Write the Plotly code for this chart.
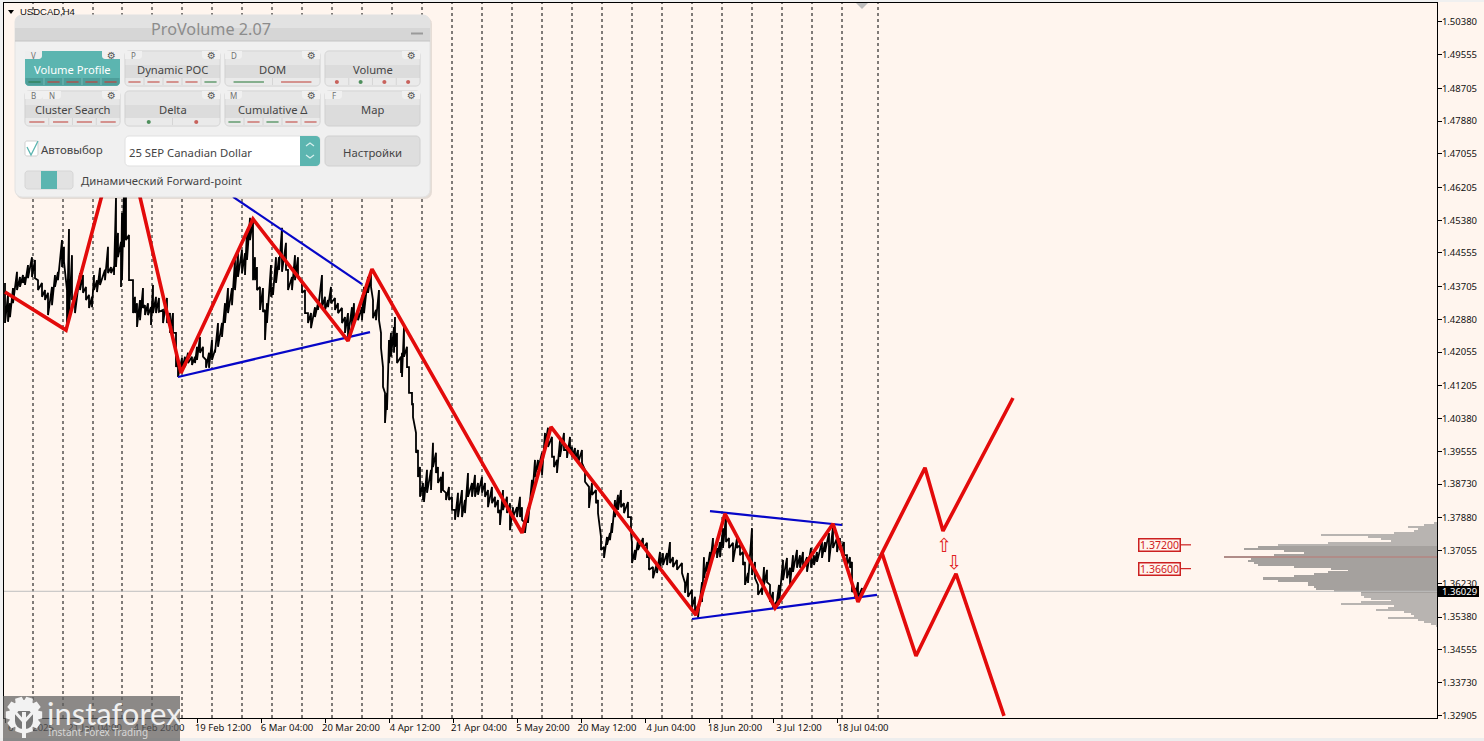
import math
import plotly.graph_objects as go

# ---------- data ----------
price_ticks = [1.50380,1.49555,1.48705,1.47880,1.47055,1.46205,1.45380,1.44555,1.43705,1.42880,1.42055,
               1.41205,1.40380,1.39555,1.38730,1.37880,1.37055,1.36230,1.35380,1.34555,1.33730,1.32905]
time_tick_bars = [5,69,133,197,261,325,389,453,517,581,645,709,773,837]
time_tick_labels = ["6 Jan 2025","21 Jan 04:00","4 Feb 20:00","19 Feb 12:00","6 Mar 04:00","20 Mar 20:00","4 Apr 12:00",
                    "21 Apr 04:00","5 May 20:00","20 May 12:00","4 Jun 04:00","18 Jun 20:00","3 Jul 12:00","18 Jul 04:00"]
period_bars = [33,63,93,122,152,182,212,242,272,302,332,362,392,422,452,482,512,542,572,602,632,662,692,722,752,782,812,842,878]

bars = [5,8,10,13,17,20,23,25,28,32,35,38,42,45,48,52,55,58,62,64,67,69,72,75,80,83,86,89,92,94,97,100,105,108,111,114,116,118,121,122,124,126,129,
133,135,137,140,143,145,148,151,153,156,159,163,167,170,173,176,178,182,185,188,192,195,197,200,203,206,209,212,215,218,222,225,228,232,235,238,242,245,247,250,
253,255,257,260,263,265,267,271,273,276,279,282,286,288,292,295,298,302,305,308,311,315,318,322,325,328,331,335,338,342,345,348,352,354,358,362,364,368,371,373,376,379,
381,383,385,387,389,391,394,395,397,401,402,404,407,409,412,413,416,418,420,423,424,427,431,433,436,438,441,443,446,449,452,455,458,462,465,468,472,475,478,482,485,488,492,495,498,500,
503,507,510,513,517,520,522,525,528,532,535,538,542,545,548,552,554,557,560,564,567,570,572,575,578,582,585,589,592,596,598,601,604,607,610,612,615,618,621,624,628,631,632,635,638,643,647,649,653,657,660,663,667,670,673,677,682,685,688,692,695,698,
702,704,707,710,713,717,720,723,726,729,733,737,740,743,745,748,752,755,758,762,764,767,770,773,776,779,783,787,790,793,797,800,803,807,811,814,817,822,825,829,833,837,840,844,847,850,852,855,858,862]

highs = [1.4380,1.4350,1.4329,1.4367,1.4408,1.4395,1.4400,1.4395,1.4425,1.4445,1.4438,1.4387,1.4380,1.4362,1.4355,1.4370,1.4400,1.4408,1.4488,1.4471,1.4362,1.4516,1.4450,1.4345,1.4405,1.4400,1.4370,1.4350,1.4345,1.4400,1.4387,1.4418,1.4413,1.4471,1.4420,1.4420,1.4594,1.4506,1.4483,1.4556,1.4614,1.4614,1.4501,
1.4387,1.4345,1.4329,1.4337,1.4367,1.4324,1.4329,1.4319,1.4375,1.4345,1.4342,1.4312,1.4342,1.4304,1.4304,1.4254,1.4186,1.4191,1.4194,1.4204,1.4194,1.4194,1.4219,1.4244,1.4219,1.4186,1.4204,1.4236,1.4211,1.4279,1.4279,1.4329,1.4367,1.4367,1.4438,1.4455,1.4463,1.4455,1.4514,1.4544,
1.4539,1.4445,1.4420,1.4370,1.4367,1.4312,1.4329,1.4425,1.4370,1.4445,1.4445,1.4519,1.4481,1.4413,1.4395,1.4450,1.4445,1.4380,1.4362,1.4304,1.4304,1.4319,1.4329,1.4400,1.4345,1.4337,1.4370,1.4342,1.4329,1.4317,1.4294,1.4304,1.4319,1.4329,1.4312,1.4319,1.4370,1.4395,1.4400,1.4337,1.4312,1.4362,
1.4254,1.4168,1.4103,1.4103,1.4236,1.4254,1.4269,1.4294,1.4254,1.4194,1.4204,1.4269,1.4219,1.4168,1.4103,1.4077,1.4002,1.3959,1.3916,1.3876,1.3866,1.3909,1.3909,1.3977,1.3952,1.3916,1.3891,1.3904,1.3851,1.3866,1.3841,1.3808,1.3851,1.3858,1.3833,1.3901,1.3876,1.3896,1.3876,1.3891,1.3876,1.3858,1.3866,1.3841,1.3833,1.3808,
1.3858,1.3841,1.3825,1.3815,1.3815,1.3841,1.3815,1.3775,1.3815,1.3884,1.3934,1.3934,1.3952,1.4002,1.4015,1.3992,1.3942,1.3934,1.3984,1.4002,1.3959,1.3992,1.3967,1.3964,1.3959,1.3959,1.3909,1.3866,1.3876,1.3858,1.3833,1.3740,1.3715,1.3740,1.3750,1.3775,1.3833,1.3846,1.3858,1.3825,1.3828,1.3790,1.3725,1.3707,1.3732,1.3737,1.3725,1.3689,1.3664,1.3674,1.3702,1.3699,1.3699,1.3727,1.3689,1.3682,1.3674,1.3624,1.3649,1.3606,1.3589,1.3569,
1.3626,1.3689,1.3677,1.3702,1.3737,1.3712,1.3727,1.3762,1.3795,1.3737,1.3725,1.3737,1.3720,1.3702,1.3677,1.3649,1.3762,1.3677,1.3619,1.3611,1.3664,1.3657,1.3619,1.3601,1.3576,1.3619,1.3682,1.3687,1.3662,1.3694,1.3707,1.3694,1.3702,1.3689,1.3712,1.3694,1.3702,1.3727,1.3727,1.3750,1.3765,1.3737,1.3737,1.3727,1.3694,1.3689,1.3677,1.3611,1.3626,1.3611]

lows = [1.4279,1.4282,1.4294,1.4329,1.4362,1.4370,1.4380,1.4375,1.4392,1.4395,1.4392,1.4362,1.4345,1.4337,1.4299,1.4324,1.4370,1.4387,1.4420,1.4433,1.4279,1.4294,1.4337,1.4304,1.4362,1.4355,1.4337,1.4317,1.4319,1.4362,1.4357,1.4375,1.4387,1.4405,1.4405,1.4400,1.4420,1.4445,1.4370,1.4387,1.4470,1.4488,1.4387,
1.4304,1.4304,1.4269,1.4286,1.4317,1.4299,1.4299,1.4274,1.4304,1.4304,1.4307,1.4279,1.4279,1.4254,1.4254,1.4168,1.4143,1.4161,1.4168,1.4178,1.4173,1.4178,1.4186,1.4204,1.4194,1.4166,1.4166,1.4186,1.4204,1.4219,1.4244,1.4279,1.4304,1.4324,1.4362,1.4395,1.4405,1.4400,1.4438,1.4488,
1.4387,1.4387,1.4362,1.4312,1.4307,1.4236,1.4279,1.4345,1.4350,1.4380,1.4413,1.4408,1.4413,1.4362,1.4362,1.4387,1.4395,1.4355,1.4304,1.4279,1.4266,1.4294,1.4312,1.4319,1.4312,1.4319,1.4329,1.4312,1.4304,1.4279,1.4254,1.4244,1.4269,1.4286,1.4286,1.4286,1.4304,1.4355,1.4370,1.4291,1.4286,1.4286,
1.4216,1.4118,1.4027,1.4060,1.4178,1.4194,1.4204,1.4219,1.4178,1.4153,1.4143,1.4194,1.4168,1.4103,1.4072,1.4042,1.3952,1.3891,1.3841,1.3833,1.3828,1.3851,1.3858,1.3916,1.3901,1.3876,1.3851,1.3858,1.3833,1.3833,1.3808,1.3783,1.3790,1.3790,1.3800,1.3841,1.3841,1.3841,1.3846,1.3851,1.3841,1.3815,1.3825,1.3815,1.3800,1.3770,
1.3808,1.3800,1.3757,1.3790,1.3790,1.3790,1.3783,1.3750,1.3775,1.3833,1.3891,1.3909,1.3896,1.3967,1.3967,1.3942,1.3916,1.3901,1.3942,1.3959,1.3939,1.3952,1.3942,1.3934,1.3926,1.3926,1.3879,1.3813,1.3846,1.3825,1.3800,1.3707,1.3687,1.3720,1.3732,1.3750,1.3790,1.3808,1.3815,1.3800,1.3790,1.3750,1.3674,1.3682,1.3707,1.3712,1.3689,1.3657,1.3636,1.3649,1.3664,1.3669,1.3669,1.3674,1.3664,1.3657,1.3649,1.3599,1.3589,1.3563,1.3551,1.3536,
1.3576,1.3636,1.3652,1.3669,1.3689,1.3687,1.3689,1.3712,1.3727,1.3712,1.3677,1.3712,1.3694,1.3669,1.3619,1.3624,1.3644,1.3636,1.3594,1.3594,1.3619,1.3626,1.3576,1.3561,1.3561,1.3569,1.3631,1.3636,1.3619,1.3652,1.3662,1.3662,1.3662,1.3652,1.3662,1.3669,1.3677,1.3687,1.3702,1.3677,1.3712,1.3702,1.3707,1.3694,1.3669,1.3662,1.3601,1.3586,1.3586,1.3594]

zigzag_bars = [5,66,122,181,253,348,372,522,551,696,725,775,833,858,882,925,943,1013]
zigzag_prices = [1.4357,1.4261,1.4791,1.4153,1.4541,1.4234,1.4415,1.3750,1.4017,1.3543,1.3798,1.3561,1.3773,1.3576,1.3699,1.3914,1.3755,1.4090]
alt_bars = [882,916,956,1004]
alt_prices = [1.3699,1.3440,1.3647,1.3289]

trend_bars = [[178,370],[233,362],[692,877],[710,842]]
trend_prices = [[1.4143,1.4256],[1.4597,1.4377],[1.3533,1.3594],[1.3805,1.3770]]

last_price = 1.36029
level_prices = [1.37200,1.36600]
level_labels = ["1.37200","1.36600"]

profile_prices = [1.3775,1.3770,1.3765,1.3760,1.3755,1.3750,1.3745,1.3740,1.3735,1.3730,1.3725,1.3720,1.3715,1.3710,1.3705,1.3700,1.3695,1.3690,
                  1.3685,1.3680,1.3675,1.3670,1.3665,1.3660,1.3655,1.3650,1.3645,1.3640,1.3635,1.3630,1.3625,1.3620,1.3615,1.3610,1.3605,1.3600,
                  1.3595,1.3590,1.3585,1.3580,1.3575,1.3570,1.3565,1.3560,1.3555,1.3550,1.3545,1.3540,1.3535,1.3530,1.3525,1.3520,1.3515]
profile_volume = [3,13,29,19,23,43,116,69,56,46,109,159,179,193,153,133,163,213,186,189,183,179,143,106,89,109,123,143,174,159,129,129,123,121,103,76,
                  76,73,66,46,76,96,43,49,61,33,26,23,49,19,13,6,1]

# ---------- layout constants ----------
L, R, T, B = 4, 1437, 3, 718
W, H = 1484, 741
BG = "#FFF5EE"
TEAL = "#5CB5B0"
def X(x): return (x - L) / (R - L)
def Y(y): return (B - y) / (B - T)

shapes, notes = [], []

def rect(x0, y0, x1, y1, fill, line=None, lw=1, above=True):
    shapes.append(dict(type="rect", xref="paper", yref="paper", x0=X(x0), x1=X(x1), y0=Y(y1), y1=Y(y0),
                       fillcolor=fill, line=dict(color=line or "rgba(0,0,0,0)", width=lw if line else 0),
                       layer="above" if above else "below"))

def path(points, fill=None, line=None, lw=1, closed=False):
    d = "M " + " L ".join(f"{X(px):.5f},{Y(py):.5f}" for px, py in points) + (" Z" if closed else "")
    shapes.append(dict(type="path", xref="paper", yref="paper", path=d, fillcolor=fill or "rgba(0,0,0,0)",
                       line=dict(color=line or "rgba(0,0,0,0)", width=lw if line else 0), layer="above"))

def rrect(x0, y0, x1, y1, r, fill, line=None, lw=1, corners=(1,1,1,1)):
    pts = []
    cs = [(x1, y0, -90, corners[1]), (x1, y1, 0, corners[2]), (x0, y1, 90, corners[3]), (x0, y0, 180, corners[0])]
    for cx, cy, a0, on in cs:
        if on:
            dx = -r if cx == x1 else r
            dy = r if cy == y0 else -r
            for k in range(5):
                a = math.radians(a0 + k * 22.5)
                pts.append((cx + dx + r * math.cos(a), cy + dy + r * math.sin(a)))
        else:
            pts.append((cx, cy))
    path(pts, fill=fill, line=line, lw=lw, closed=True)

def text(x, y, s, size=12, color="#444444", anchor="center", font="Noto Sans", opacity=None):
    n = dict(xref="paper", yref="paper", x=X(x), y=Y(y), text=s, showarrow=False, xanchor=anchor, yanchor="middle",
             font=dict(family=font, size=size, color=color), borderpad=0, borderwidth=0)
    if opacity is not None:
        n["opacity"] = opacity
    notes.append(n)

# window edge
rect(0, 0, 3, 741, "#F0F0F0")
rect(0, 0, W, 2, "#F0F0F0")
rect(0, 738, W, 741, "#EDEDED")

# chart header
path([(8, 10), (14, 10), (11, 14)], fill="#000000", closed=True)
text(20, 12, "USDCAD,H4", size=9.5, color="#111111", anchor="left", font="Liberation Sans")
path([(856, 3), (868, 3), (862, 9)], fill="#BDBDBD", closed=True)

# current price tag
rect(1438, 586, 1479, 597, "#000000")
text(1459, 591.5, f"{last_price:.5f}", size=9.5, color="#FFFFFF", font="Noto Sans")

# level tags
for p, s in zip(level_prices, level_labels):
    notes.append(dict(xref="x", yref="y", x=1159, y=p, text=s, showarrow=False, xanchor="center", yanchor="middle",
                      font=dict(family="Noto Sans", size=10.5, color="#D02020"),
                      bordercolor="#CC2020", borderwidth=1.5, borderpad=0, bgcolor=BG, width=40, height=11))

# ---------- ProVolume panel ----------
rrect(16, 17, 432, 199, 7, "rgba(0,0,0,0.10)")
rrect(15, 15, 430, 197, 7, "#F0F0F0", line="#E2E2E2")
rrect(15, 15, 430, 28, 7, "#E2E2E2", corners=(1,1,0,0))
rect(15, 28, 430, 41, "#D6D6D6")
path([(15, 41), (430, 41)], line="#C4C4C4")
text(211, 29, "ProVolume 2.07", size=16.2, color="#8C8C8C")
path([(411, 33.5), (423, 33.5)], line="#9A9A9A", lw=2)

cols = [25, 125, 225, 325]
rows = [51, 91]
bw, bh = 95, 35
buttons = [
    (0, 0, "Volume Profile", ["V"], ["g", "r", "r", "r", "r"], "dash"),
    (1, 0, "Dynamic POC", ["P"], ["r", "r", "r", "r", "g"], "dash"),
    (2, 0, "DOM", ["D"], ["g", "r"], "dash"),
    (3, 0, "Volume", [""], ["r", "g", "r", "r"], "dot"),
    (0, 1, "Cluster Search", ["B", "N"], ["r", "r", "r", "r"], "dash"),
    (1, 1, "Delta", [""], ["g", "r"], "dot"),
    (2, 1, "Cumulative Δ", ["M"], ["g", "r", "g", "r", "r"], "dash"),
    (3, 1, "Map", ["F"], [], "dash"),
]
GREEN, RED = "#4E8F5C", "#C8625C"
for c, r, label, tabs, seg, kind in buttons:
    x0, y0 = cols[c], rows[r]
    x1, y1 = x0 + bw, y0 + bh
    active = label == "Volume Profile"
    rrect(x0, y0, x1, y1, 4, TEAL if active else "#DCDCDC", line=None if active else "#D0D0D0")
    if not active:
        rrect(x0 + 0.5, y0 + 0.5, x1 - 0.5, y0 + 14, 3, "#E6E6E6", corners=(1,1,0,0))
    if seg:
        rrect(x0 + 0.5, y0 + 27, x1 - 0.5, y1 - 0.5, 3, "#4E9E9A" if active else "#EAEAEA", corners=(0,0,1,1))
        n = len(seg)
        sw = bw / n
        for i, col in enumerate(seg):
            cx = x0 + sw * (i + 0.5)
            cy = y0 + 31
            cc = GREEN if col == "g" else RED
            if active:
                cc = "#2F7F55" if col == "g" else "#B84A45"
            if kind == "dash":
                half = sw * 0.32
                path([(cx - half, cy), (cx + half, cy)], line=cc, lw=1.3)
            else:
                rrect(cx - 2, cy - 2, cx + 2, cy + 2, 2, cc)
            if i:
                path([(x0 + sw * i, y0 + 27), (x0 + sw * i, y1 - 1)], line="#CFCFCF" if not active else "#7FC4C0", lw=0.8)
    # key tabs
    tx = x0
    for t in tabs:
        if t:
            rrect(tx, y0, tx + 17 if len(tabs) == 1 else tx + 18, y0 + 8, 3, "#F0F0F0" if not active else "#EEEEEE", corners=(0,0,1,0))
            text(tx + 8.5, y0 + 4.5, t, size=8, color="#707070")
        tx += 18
    # gear tab
    rrect(x1 - 18, y0, x1, y0 + 8, 3, "#F0F0F0", corners=(0,0,0,1))
    text(x1 - 9, y0 + 4, "⚙", size=10, color="#555555", font="DejaVu Sans")
    text((x0 + x1) / 2, y0 + 18, label, size=11.2, color="#FFFFFF" if active else "#454545")

# check box
rrect(25, 141, 38, 156, 2, "#FFFFFF", line="#CFCFCF")
path([(27, 147), (31, 155), (38, 141)], line=TEAL, lw=1.3)
text(41, 150, "Автовыбор", size=11.5, anchor="left")
# selector
rrect(125, 136, 320, 166, 4, "#FFFFFF", line="#E0E0E0")
rrect(300, 136, 320, 166, 4, TEAL, corners=(0,1,1,0))
path([(306, 146), (310, 143), (314, 146)], line="#D8F0EE", lw=1.2)
path([(306, 155), (310, 158), (314, 155)], line="#D8F0EE", lw=1.2)
text(129, 152, "25 SEP Canadian Dollar", size=11.3, anchor="left")
# settings
rrect(325, 136, 420, 166, 4, "#DEDEDE", line="#D0D0D0")
text(372, 152, "Настройки", size=11.3)
# toggle
rrect(25, 171, 73, 189, 3, "#E2E2E2", line="#D6D6D6")
rect(41, 171, 57, 189, TEAL)
text(81, 181, "Динамический Forward-point", size=11.3, anchor="left")

# ---------- watermark ----------
rect(3, 696, 180, 741, "rgba(95,95,95,0.72)")
teeth = 10
gear = []
for i in range(teeth):
    a = 2 * math.pi * i / teeth
    s = 2 * math.pi / teeth
    for da, rr in ((-0.30, 15), (-0.20, 18.5), (0.20, 18.5), (0.30, 15)):
        gear.append((24 + rr * math.cos(a + da * s * 1.5), 715 + rr * math.sin(a + da * s * 1.5)))
path(gear, fill="#F2F2F2", closed=True)
rrect(15, 711, 33, 729, 8, "rgba(120,120,120,1)", corners=(0,0,1,1))
path([(24, 738), (24, 712)], line="#F2F2F2", lw=4)
path([(15, 712), (24, 722), (33, 712)], line="#F2F2F2", lw=3)
rrect(11, 705, 19, 713, 4, "#F2F2F2")
rrect(29, 705, 37, 713, 4, "#F2F2F2")
rrect(20, 701, 28, 709, 4, "#F2F2F2")
text(47, 713, "instaforex", size=31, color="#F0F0F0", anchor="left", font="Lato")
text(48, 732, "Instant Forex Trading", size=10, color="#D6D6D6", anchor="left", font="Noto Sans")

# ---------- traces ----------
fig = go.Figure()

vx, vy = [], []
for b in period_bars:
    vx += [b, b, None]
    vy += [1.32836, 1.50854, None]
fig.add_trace(go.Scatter(x=vx, y=vy, mode="lines", line=dict(color="#000000", width=1, dash="3px,3px"),
                         hoverinfo="skip", showlegend=False))
fig.add_trace(go.Scatter(x=[L, R], y=[last_price, last_price], mode="lines",
                         line=dict(color="#BEBEBE", width=1), showlegend=False))

colors = []
for p in profile_prices:
    if abs(p - 1.3690) < 1e-6:
        colors.append("#B08C88")
    elif 1.3600 <= p <= 1.3715:
        colors.append("#A5A19E")
    else:
        colors.append("#B8B4B1")
fig.add_trace(go.Bar(orientation="h", y=profile_prices, x=profile_volume, base=[R - v for v in profile_volume],
                     width=0.00056, marker=dict(color=colors, line=dict(width=0)), showlegend=False))

px, py = [], []
for b, hi, lo in zip(bars, highs, lows):
    px += [b, b]
    py += [hi, lo]
fig.add_trace(go.Scatter(x=px, y=py, mode="lines", line=dict(color="#000000", width=1.8), showlegend=False))

for tb, tp in zip(trend_bars, trend_prices):
    fig.add_trace(go.Scatter(x=tb, y=tp, mode="lines", line=dict(color="#0606C8", width=2.2), showlegend=False))

fig.add_trace(go.Scatter(x=zigzag_bars, y=zigzag_prices, mode="lines", line=dict(color="#E30B0B", width=3.6), showlegend=False))
fig.add_trace(go.Scatter(x=alt_bars, y=alt_prices, mode="lines", line=dict(color="#E30B0B", width=3.6), showlegend=False))

for p in level_prices:
    fig.add_trace(go.Scatter(x=[1180, 1191], y=[p, p], mode="lines", line=dict(color="#CC2020", width=1.2), showlegend=False))

notes.append(dict(xref="x", yref="y", x=944, y=1.3720, text="⇧", showarrow=False, font=dict(family="DejaVu Sans", size=19, color="#E02020")))
notes.append(dict(xref="x", yref="y", x=954, y=1.3677, text="⇩", showarrow=False, font=dict(family="DejaVu Sans", size=19, color="#E02020")))

fig.update_layout(
    width=W, height=H, margin=dict(l=L, r=W - R, t=T, b=H - B, pad=0),
    paper_bgcolor=BG, plot_bgcolor=BG, showlegend=False, barmode="overlay", bargap=0,
    shapes=shapes, annotations=notes,
    xaxis=dict(range=[L, R], showgrid=False, zeroline=False, showline=True, mirror=True, linecolor="#000000", linewidth=1,
               tickmode="array", tickvals=time_tick_bars, ticktext=time_tick_labels, ticks="outside", ticklen=4, tickcolor="#000000",
               tickangle=0, ticklabelshift=26, ticklabelstandoff=-3,
               tickfont=dict(family="Noto Sans", size=9.5, color="#111111")),
    yaxis=dict(range=[1.32836, 1.50854], side="right", showgrid=False, zeroline=False, showline=True, mirror=True, linecolor="#000000", linewidth=1,
               tickmode="array", tickvals=price_ticks, ticktext=[f"{v:.5f}" for v in price_ticks], ticks="outside", ticklen=4, tickcolor="#000000",
               ticklabelstandoff=-2,
               tickfont=dict(family="Noto Sans", size=9.5, color="#111111")),
)
fig.write_html("out.html", config={"displayModeBar": False}, post_script="document.body.style.margin='0';")
